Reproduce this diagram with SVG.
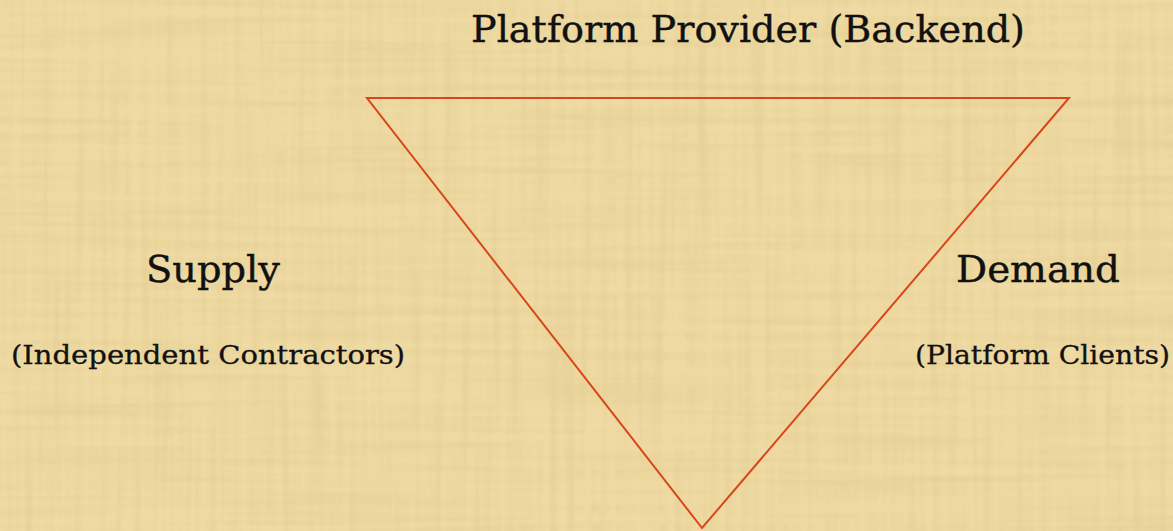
<svg xmlns="http://www.w3.org/2000/svg" width="1173" height="531" viewBox="0 0 1173 531">
  <defs>
    <style>
      .big { font-family: "DejaVu Serif", "Liberation Serif", serif; font-size: 37px; fill: #111; stroke: #111; stroke-width: 0.4px; }
      .small { font-family: "DejaVu Serif", "Liberation Serif", serif; font-size: 26px; fill: #111; stroke: #111; stroke-width: 0.3px; }
      .edge { stroke: #D8461C; stroke-width: 2; fill: none; stroke-linejoin: miter; }
    </style>
    <filter id="fibers" x="0" y="0" width="100%" height="100%">
      <feTurbulence type="fractalNoise" baseFrequency="0.004 0.12" numOctaves="2" seed="3" result="h"/>
      <feTurbulence type="fractalNoise" baseFrequency="0.12 0.004" numOctaves="2" seed="7" result="v"/>
      <feBlend in="h" in2="v" mode="multiply" result="m"/>
      <feColorMatrix in="m" type="matrix" values="0 0 0 0 0.55  0 0 0 0 0.42  0 0 0 0 0.15  -1.4 0 0 0 0.75"/>
    </filter>
  </defs>
  <rect id="background" x="0" y="0" width="1173" height="531" fill="#EFDAA3"/>
  <rect x="0" y="0" width="1173" height="531" filter="url(#fibers)" opacity="0.4"/>

  <g id="connectors">
    <polygon class="edge" points="367,98 1069,98 702,528"/>
  </g>

  <g id="node-platform">
    <text class="big" x="471" y="42" textLength="554" lengthAdjust="spacingAndGlyphs">Platform Provider (Backend)</text>
  </g>
  <g id="node-supply">
    <text class="big" x="146" y="282" textLength="134" lengthAdjust="spacingAndGlyphs">Supply</text>
    <text class="small" x="11" y="364" textLength="394" lengthAdjust="spacingAndGlyphs">(Independent Contractors)</text>
  </g>
  <g id="node-demand">
    <text class="big" x="956" y="282" textLength="164" lengthAdjust="spacingAndGlyphs">Demand</text>
    <text class="small" x="915" y="364" textLength="255" lengthAdjust="spacingAndGlyphs">(Platform Clients)</text>
  </g>
</svg>
